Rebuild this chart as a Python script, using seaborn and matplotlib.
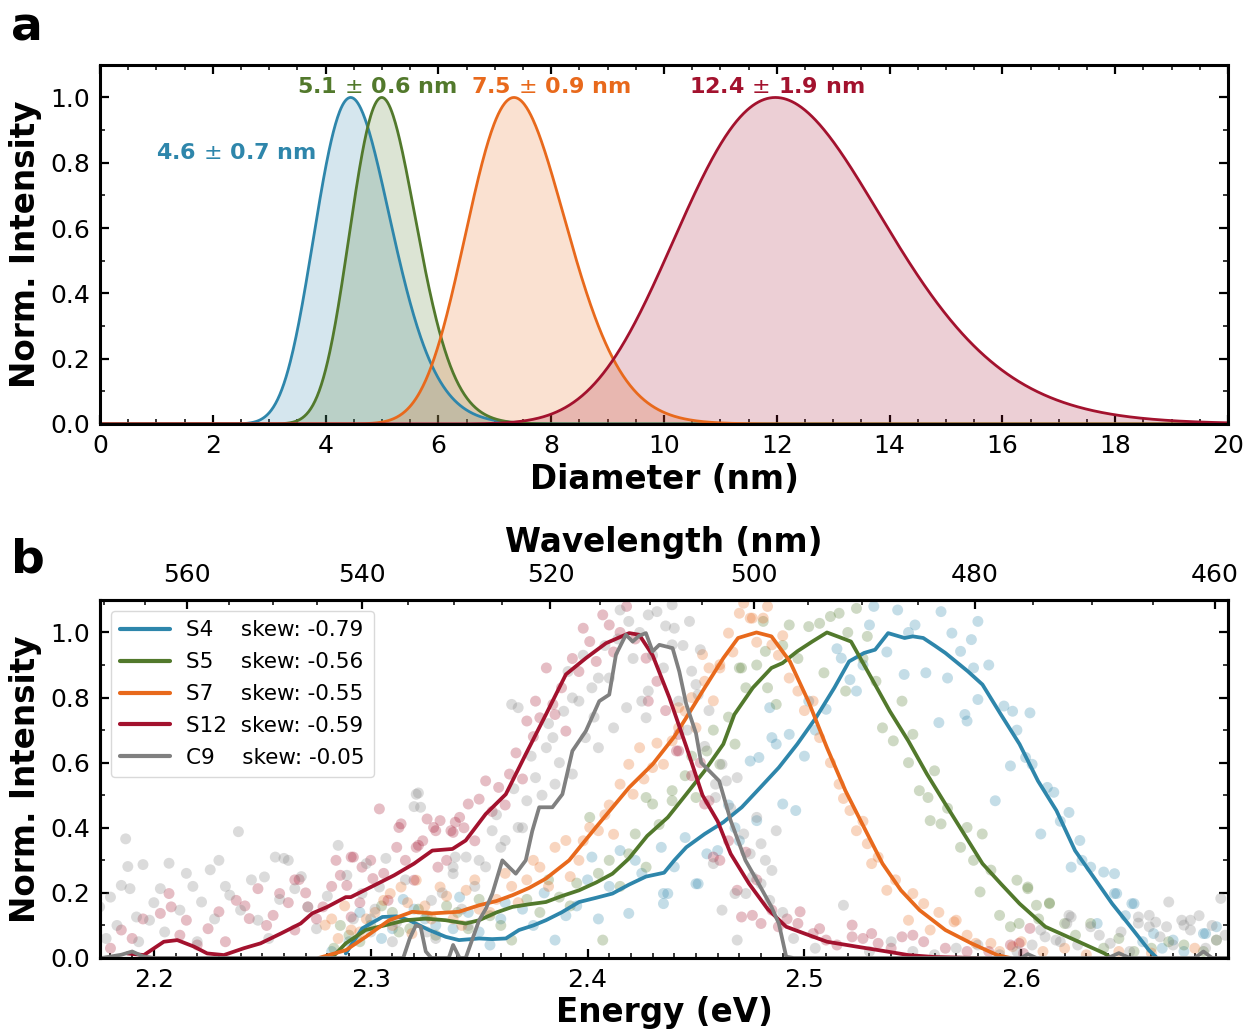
import numpy as np
import pandas as pd
import matplotlib
matplotlib.use("Agg")
import matplotlib.pyplot as plt
import seaborn as sns
from matplotlib.ticker import MultipleLocator

# ---------------- panel a: size distributions ----------------
size_names = ["S4", "S5", "S7", "S12"]
size_mean = [4.6, 5.1, 7.5, 12.4]
size_std = [0.7, 0.6, 0.9, 1.9]

# ---------------- panel b: emission spectra ----------------
samples = ["S4", "S5", "S7", "S12", "C9"]
skews = ["-0.79", "-0.56", "-0.55", "-0.59", "-0.05"]
wl_major = [560, 540, 520, 500, 480, 460]
wl_minor = list(range(460, 575, 5))

# smoothed spectra (energy in eV, normalised intensity)
s4_line_e = [2.2885, 2.2961, 2.3054, 2.3120, 2.3177, 2.3269, 2.3346, 2.3407, 2.3500, 2.3560, 2.3623, 2.3684,
             2.3750, 2.3808, 2.3880, 2.3961, 2.4040, 2.4115, 2.4190, 2.4269, 2.4353, 2.4400, 2.4455, 2.4540,
             2.4626, 2.4711, 2.4797, 2.4882, 2.4967, 2.5053, 2.5138, 2.5206, 2.5275, 2.5326, 2.5386, 2.5462,
             2.5500, 2.5548, 2.5600, 2.5650, 2.5753, 2.5821, 2.5906, 2.5992, 2.6077, 2.6162, 2.6248, 2.6333,
             2.6419, 2.6504, 2.6589, 2.6623]
s4_line_i = [0.014, 0.091, 0.126, 0.128, 0.116, 0.086, 0.065, 0.055, 0.060, 0.058, 0.060, 0.086,
             0.100, 0.116, 0.140, 0.172, 0.185, 0.198, 0.225, 0.250, 0.262, 0.300, 0.340, 0.381,
             0.417, 0.463, 0.524, 0.585, 0.657, 0.738, 0.830, 0.911, 0.937, 0.947, 0.998, 0.983,
             0.988, 0.983, 0.960, 0.937, 0.881, 0.840, 0.748, 0.657, 0.544, 0.453, 0.330, 0.249,
             0.167, 0.096, 0.024, 0.002]

s5_line_e = [2.2820, 2.2885, 2.2977, 2.3069, 2.3161, 2.3254, 2.3346, 2.3438, 2.3500, 2.3580, 2.3654, 2.3730,
             2.3808, 2.3880, 2.3961, 2.4040, 2.4115, 2.4190, 2.4275, 2.4370, 2.4455, 2.4540, 2.4626, 2.4677,
             2.4762, 2.4848, 2.4899, 2.4967, 2.5036, 2.5104, 2.5172, 2.5215, 2.5309, 2.5394, 2.5479, 2.5565,
             2.5650, 2.5736, 2.5821, 2.5906, 2.5992, 2.6111, 2.6248, 2.6384, 2.6410]
s5_line_i = [0.000, 0.045, 0.086, 0.101, 0.116, 0.121, 0.116, 0.106, 0.116, 0.140, 0.157, 0.165,
             0.172, 0.190, 0.208, 0.232, 0.259, 0.305, 0.375, 0.432, 0.503, 0.575, 0.657, 0.748,
             0.830, 0.891, 0.906, 0.942, 0.972, 1.000, 0.983, 0.972, 0.860, 0.758, 0.667, 0.565,
             0.473, 0.381, 0.290, 0.228, 0.167, 0.096, 0.055, 0.014, 0.002]

s7_line_e = [2.2760, 2.2885, 2.2977, 2.3085, 2.3192, 2.3284, 2.3407, 2.3500, 2.3580, 2.3654, 2.3730, 2.3808,
             2.3915, 2.4038, 2.4192, 2.4300, 2.4400, 2.4455, 2.4540, 2.4626, 2.4694, 2.4779, 2.4848, 2.4933,
             2.5018, 2.5104, 2.5189, 2.5275, 2.5360, 2.5445, 2.5531, 2.5650, 2.5770, 2.5889, 2.5950]
s7_line_i = [0.000, 0.024, 0.065, 0.116, 0.142, 0.137, 0.142, 0.162, 0.175, 0.193, 0.215, 0.244,
             0.300, 0.401, 0.524, 0.595, 0.680, 0.738, 0.830, 0.921, 0.983, 1.000, 0.988, 0.911,
             0.789, 0.646, 0.514, 0.401, 0.290, 0.208, 0.147, 0.086, 0.045, 0.009, 0.000]

s12_line_e = [2.1877, 2.1954, 2.2046, 2.2108, 2.2185, 2.2246, 2.2323, 2.2415, 2.2492, 2.2585, 2.2677, 2.2730,
              2.2800, 2.2885, 2.2908, 2.3031, 2.3108, 2.3200, 2.3284, 2.3377, 2.3438, 2.3530, 2.3623, 2.3715,
              2.3808, 2.3900, 2.3992, 2.4085, 2.4192, 2.4238, 2.4300, 2.4377, 2.4455, 2.4530, 2.4600, 2.4660,
              2.4745, 2.4831, 2.4916, 2.5001, 2.5104, 2.5240, 2.5343, 2.5479, 2.5600, 2.5800]
s12_line_i = [0.014, 0.009, 0.050, 0.055, 0.035, 0.014, 0.009, 0.030, 0.045, 0.075, 0.106, 0.137,
              0.157, 0.187, 0.187, 0.228, 0.254, 0.290, 0.330, 0.335, 0.361, 0.442, 0.503, 0.626,
              0.748, 0.871, 0.921, 0.967, 0.998, 0.993, 0.930, 0.800, 0.650, 0.500, 0.420, 0.320,
              0.228, 0.150, 0.096, 0.075, 0.050, 0.035, 0.024, 0.009, 0.003, 0.000]

c9_line_e = [2.1760, 2.1850, 2.1900, 2.1950, 2.2000, 2.2500, 2.3150, 2.3180, 2.3208, 2.3230, 2.3254, 2.3280,
             2.3360, 2.3380, 2.3410, 2.3438, 2.3470, 2.3500, 2.3530, 2.3561, 2.3607, 2.3638, 2.3669, 2.3715,
             2.3745, 2.3777, 2.3838, 2.3884, 2.3930, 2.3992, 2.4054, 2.4100, 2.4131, 2.4177, 2.4208, 2.4238,
             2.4269, 2.4300, 2.4331, 2.4392, 2.4423, 2.4455, 2.4500, 2.4524, 2.4546, 2.4607, 2.4660, 2.4728,
             2.4780, 2.4848, 2.4882, 2.4916, 2.4950, 2.6000, 2.6030, 2.6070, 2.6400, 2.6450, 2.6500, 2.6800,
             2.6840, 2.6880, 2.6950]
c9_line_i = [0.000, 0.010, 0.020, 0.005, 0.000, 0.000, 0.000, 0.060, 0.100, 0.096, 0.020, 0.000,
             0.000, 0.040, 0.000, 0.000, 0.060, 0.116, 0.150, 0.198, 0.300, 0.279, 0.259, 0.300,
             0.390, 0.463, 0.463, 0.503, 0.636, 0.697, 0.789, 0.809, 0.932, 0.993, 0.972, 0.990,
             0.998, 0.942, 0.962, 0.952, 0.880, 0.780, 0.690, 0.600, 0.585, 0.544, 0.422, 0.300,
             0.239, 0.157, 0.106, 0.004, 0.000, 0.000, 0.012, 0.000, 0.000, 0.015, 0.000, 0.000,
             0.020, 0.000, 0.000]

# raw spectral points
s4_pts_e = [2.290, 2.300, 2.310, 2.320, 2.330, 2.341, 2.350, 2.360, 2.370, 2.385, 2.390, 2.402, 2.410, 2.415,
            2.419, 2.425, 2.434, 2.435, 2.435, 2.437, 2.450, 2.451, 2.460, 2.468, 2.475, 2.478, 2.479, 2.484,
            2.485, 2.487, 2.490, 2.493, 2.496, 2.502, 2.510, 2.517, 2.521, 2.524, 2.530, 2.532, 2.543, 2.546,
            2.551, 2.556, 2.562, 2.563, 2.568, 2.572, 2.574, 2.575, 2.577, 2.578, 2.580, 2.580, 2.588, 2.592,
            2.595, 2.596, 2.602, 2.604, 2.605, 2.609, 2.612, 2.615, 2.622, 2.623, 2.627, 2.632, 2.635, 2.638,
            2.643, 2.643, 2.644, 2.651, 2.652, 2.661, 2.670, 2.684, 2.685, 2.690,
            2.282, 2.295, 2.305, 2.315, 2.325, 2.338, 2.345, 2.355, 2.362, 2.375, 2.380, 2.395, 2.400, 2.405,
            2.422, 2.440, 2.445, 2.455, 2.465, 2.470, 2.500, 2.505, 2.515, 2.527, 2.538, 2.548, 2.566, 2.585,
            2.598, 2.618, 2.628, 2.648, 2.656, 2.665, 2.675]
s4_pts_i = [0.050, 0.120, 0.090, 0.150, 0.100, 0.187, 0.080, 0.120, 0.150, 0.055, 0.130, 0.310, 0.220, 0.330,
            0.137, 0.260, 0.340, 0.198, 0.167, 0.198, 0.228, 0.228, 0.330, 0.400, 0.605, 0.422, 0.616, 0.769,
            0.677, 0.657, 0.473, 0.687, 0.453, 0.789, 0.764, 0.921, 0.855, 0.820, 1.023, 1.080, 1.069, 0.871,
            1.023, 0.876, 0.723, 1.064, 0.998, 0.942, 0.748, 0.728, 0.978, 0.891, 0.794, 1.034, 0.483, 0.774,
            0.590, 0.758, 0.616, 0.753, 0.595, 0.381, 0.524, 0.509, 0.447, 0.279, 0.361, 0.279, 0.106, 0.264,
            0.259, 0.198, 0.198, 0.167, 0.167, 0.075, 0.055, 0.075, 0.075, 0.096,
            0.020, 0.140, 0.060, 0.180, 0.120, 0.090, 0.140, 0.040, 0.170, 0.100, 0.200, 0.160, 0.240, 0.120,
            0.300, 0.280, 0.370, 0.320, 0.470, 0.360, 0.620, 0.700, 0.950, 0.900, 0.940, 1.000, 0.860, 0.900,
            0.700, 0.420, 0.300, 0.130, 0.050, 0.030, 0.020]

s5_pts_e = [2.283, 2.290, 2.300, 2.310, 2.318, 2.326, 2.335, 2.345, 2.355, 2.365, 2.372, 2.387, 2.395, 2.401,
            2.407, 2.410, 2.419, 2.422, 2.427, 2.427, 2.430, 2.439, 2.439, 2.445, 2.450, 2.455, 2.461, 2.468,
            2.470, 2.471, 2.473, 2.481, 2.482, 2.483, 2.487, 2.493, 2.502, 2.507, 2.509, 2.512, 2.516, 2.519,
            2.524, 2.529, 2.536, 2.541, 2.545, 2.550, 2.553, 2.557, 2.558, 2.560, 2.563, 2.572, 2.575, 2.581,
            2.582, 2.590, 2.595, 2.598, 2.599, 2.603, 2.603, 2.607, 2.613, 2.613, 2.620, 2.632, 2.645, 2.660,
            2.675, 2.690,
            2.286, 2.295, 2.305, 2.313, 2.322, 2.330, 2.340, 2.350, 2.360, 2.378, 2.382, 2.392, 2.405, 2.415,
            2.433, 2.448, 2.458, 2.465, 2.478, 2.490, 2.497, 2.520, 2.527, 2.533, 2.548, 2.566, 2.578, 2.586,
            2.608, 2.625, 2.638, 2.652, 2.668, 2.684]
s5_pts_i = [0.030, 0.070, 0.100, 0.140, 0.090, 0.130, 0.160, 0.090, 0.130, 0.055, 0.180, 0.187, 0.230, 0.432,
            0.055, 0.300, 0.320, 0.381, 0.493, 0.279, 0.473, 0.514, 0.483, 0.560, 0.493, 0.636, 0.595, 0.657,
            0.891, 0.891, 0.830, 1.034, 0.942, 0.830, 0.779, 1.023, 1.018, 1.028, 0.876, 1.049, 1.059, 0.820,
            1.074, 0.988, 0.707, 0.667, 0.789, 0.687, 0.514, 0.493, 0.422, 0.575, 0.412, 0.340, 0.401, 0.203,
            0.381, 0.131, 0.096, 0.239, 0.106, 0.218, 0.213, 0.162, 0.167, 0.169, 0.106, 0.106, 0.060, 0.030,
            0.040, 0.055,
            0.100, 0.050, 0.160, 0.080, 0.150, 0.070, 0.140, 0.180, 0.100, 0.140, 0.240, 0.160, 0.260, 0.220,
            0.410, 0.620, 0.700, 0.740, 0.900, 0.960, 0.920, 1.000, 0.920, 0.850, 0.600, 0.460, 0.300, 0.270,
            0.120, 0.070, 0.030, 0.020, 0.050, 0.020]

s7_pts_e = [2.279, 2.285, 2.291, 2.298, 2.306, 2.309, 2.314, 2.319, 2.321, 2.325, 2.332, 2.338, 2.344, 2.350,
            2.358, 2.365, 2.372, 2.378, 2.385, 2.390, 2.396, 2.401, 2.405, 2.410, 2.415, 2.419, 2.421, 2.424,
            2.430, 2.435, 2.439, 2.442, 2.442, 2.445, 2.450, 2.453, 2.454, 2.456, 2.461, 2.461, 2.465, 2.470,
            2.472, 2.475, 2.476, 2.481, 2.485, 2.493, 2.497, 2.504, 2.507, 2.516, 2.521, 2.524, 2.529, 2.534,
            2.538, 2.548, 2.550, 2.555, 2.558, 2.569, 2.570, 2.579, 2.586, 2.596, 2.610, 2.630, 2.660, 2.680,
            2.282, 2.288, 2.295, 2.302, 2.310, 2.317, 2.328, 2.335, 2.342, 2.348, 2.355, 2.362, 2.368, 2.375,
            2.382, 2.392, 2.398, 2.408, 2.412, 2.426, 2.432, 2.448, 2.458, 2.467, 2.478, 2.483, 2.488, 2.490,
            2.500, 2.512, 2.518, 2.527, 2.531, 2.542, 2.562, 2.575, 2.590, 2.600, 2.620, 2.645]
s7_pts_i = [0.101, 0.060, 0.086, 0.120, 0.177, 0.198, 0.218, 0.075, 0.239, 0.160, 0.218, 0.120, 0.208, 0.150,
            0.180, 0.220, 0.240, 0.279, 0.340, 0.361, 0.300, 0.401, 0.391, 0.470, 0.534, 0.595, 0.503, 0.646,
            0.585, 0.595, 0.667, 0.707, 0.769, 0.758, 0.707, 0.932, 0.850, 0.891, 0.901, 0.891, 0.998, 1.059,
            1.090, 1.044, 1.044, 1.044, 0.962, 0.860, 0.820, 0.789, 0.677, 0.534, 0.453, 0.391, 0.351, 0.310,
            0.208, 0.116, 0.198, 0.167, 0.086, 0.111, 0.116, 0.045, 0.045, 0.035, 0.020, 0.010, 0.015, 0.030,
            0.120, 0.160, 0.080, 0.140, 0.100, 0.170, 0.120, 0.190, 0.100, 0.240, 0.140, 0.260, 0.170, 0.300,
            0.220, 0.250, 0.360, 0.440, 0.380, 0.550, 0.660, 0.800, 0.790, 0.940, 0.970, 1.080, 0.930, 0.990,
            0.760, 0.600, 0.490, 0.420, 0.290, 0.240, 0.140, 0.070, 0.020, 0.050, 0.030, 0.020]

s12_pts_e = [2.185, 2.203, 2.207, 2.208, 2.215, 2.220, 2.230, 2.238, 2.244, 2.248, 2.255, 2.258, 2.265, 2.265,
             2.267, 2.271, 2.278, 2.284, 2.286, 2.289, 2.291, 2.291, 2.292, 2.296, 2.301, 2.304, 2.308, 2.312,
             2.313, 2.314, 2.320, 2.321, 2.322, 2.326, 2.329, 2.330, 2.331, 2.332, 2.337, 2.338, 2.339, 2.341,
             2.345, 2.350, 2.353, 2.359, 2.364, 2.372, 2.376, 2.378, 2.381, 2.384, 2.385, 2.390, 2.398, 2.401,
             2.404, 2.407, 2.410, 2.418, 2.427, 2.428, 2.441, 2.442, 2.442, 2.454, 2.456, 2.458, 2.461, 2.469,
             2.471, 2.473, 2.476, 2.480, 2.485, 2.488, 2.497, 2.498, 2.504, 2.510, 2.522, 2.522, 2.531, 2.534,
             2.545, 2.555, 2.565, 2.575, 2.595, 2.599, 2.601, 2.604,
             2.180, 2.190, 2.195, 2.212, 2.225, 2.233, 2.242, 2.252, 2.262, 2.270, 2.275, 2.282, 2.295, 2.300,
             2.306, 2.316, 2.324, 2.335, 2.343, 2.348, 2.356, 2.362, 2.367, 2.370, 2.375, 2.388, 2.393, 2.396,
             2.412, 2.415, 2.422, 2.432, 2.436, 2.448, 2.452, 2.465, 2.478, 2.492, 2.507, 2.515, 2.527, 2.540,
             2.550, 2.585]
s12_pts_i = [0.086, 0.137, 0.198, 0.157, 0.116, 0.040, 0.142, 0.177, 0.121, 0.213, 0.131, 0.198, 0.240, 0.086,
             0.241, 0.157, 0.157, 0.300, 0.254, 0.223, 0.126, 0.310, 0.310, 0.279, 0.244, 0.458, 0.177, 0.340,
             0.401, 0.412, 0.239, 0.340, 0.346, 0.427, 0.401, 0.391, 0.279, 0.422, 0.391, 0.386, 0.417, 0.432,
             0.473, 0.488, 0.544, 0.524, 0.565, 0.728, 0.789, 0.738, 0.891, 0.779, 0.748, 0.697, 1.013, 0.972,
             0.911, 1.054, 1.023, 1.080, 0.921, 0.789, 0.636, 0.687, 0.636, 0.473, 0.483, 0.310, 0.300, 0.208,
             0.126, 0.325, 0.131, 0.106, 0.147, 0.096, 0.106, 0.142, 0.075, 0.055, 0.101, 0.065, 0.075, 0.045,
             0.065, 0.050, 0.030, 0.020, 0.040, 0.045, 0.014, 0.091,
             0.030, 0.060, 0.120, 0.070, 0.090, 0.050, 0.160, 0.100, 0.170, 0.200, 0.120, 0.220, 0.170, 0.300,
             0.260, 0.300, 0.360, 0.300, 0.400, 0.360, 0.450, 0.470, 0.630, 0.550, 0.680, 0.830, 0.920, 0.880,
             0.940, 1.000, 0.980, 0.850, 0.760, 0.560, 0.600, 0.360, 0.240, 0.120, 0.090, 0.040, 0.060, 0.030,
             0.070, 0.020]

c9_pts_e = [2.175, 2.180, 2.185, 2.187, 2.188, 2.189, 2.192, 2.195, 2.198, 2.203, 2.207, 2.212, 2.218, 2.222,
            2.226, 2.230, 2.235, 2.239, 2.240, 2.248, 2.251, 2.256, 2.260, 2.262, 2.265, 2.271, 2.285, 2.289,
            2.296, 2.300, 2.304, 2.307, 2.310, 2.320, 2.321, 2.322, 2.323, 2.328, 2.330, 2.338, 2.338, 2.339,
            2.344, 2.345, 2.350, 2.356, 2.362, 2.365, 2.368, 2.368, 2.372, 2.376, 2.381, 2.384, 2.385, 2.389,
            2.393, 2.393, 2.396, 2.399, 2.402, 2.405, 2.405, 2.412, 2.415, 2.418, 2.419, 2.425, 2.427, 2.428,
            2.428, 2.432, 2.435, 2.439, 2.439, 2.440, 2.442, 2.447, 2.448, 2.450, 2.451, 2.452, 2.458, 2.459,
            2.459, 2.462, 2.462, 2.464, 2.468, 2.469, 2.469, 2.472, 2.473, 2.476, 2.478, 2.480, 2.480, 2.484,
            2.485, 2.487, 2.518, 2.550, 2.570, 2.590, 2.605, 2.609, 2.611, 2.616, 2.618, 2.621, 2.622, 2.623,
            2.632, 2.641, 2.654, 2.654, 2.659, 2.659, 2.664, 2.667, 2.668, 2.674, 2.675, 2.678, 2.678, 2.685,
            2.690, 2.692, 2.694,
            2.178, 2.183, 2.193, 2.200, 2.205, 2.215, 2.220, 2.228, 2.233, 2.245, 2.253, 2.258, 2.268, 2.275,
            2.280, 2.292, 2.298, 2.302, 2.312, 2.316, 2.326, 2.333, 2.342, 2.348, 2.353, 2.358, 2.360, 2.366,
            2.370, 2.374, 2.379, 2.382, 2.387, 2.391, 2.398, 2.403, 2.408, 2.410, 2.414, 2.421, 2.424, 2.430,
            2.436, 2.444, 2.446, 2.454, 2.456, 2.466, 2.475, 2.482, 2.490, 2.495, 2.505, 2.530, 2.540, 2.560,
            2.580, 2.598, 2.626, 2.636, 2.646, 2.650, 2.662, 2.670, 2.682, 2.688]
c9_pts_i = [0.157, 0.187, 0.223, 0.366, 0.281, 0.213, 0.126, 0.287, 0.116, 0.213, 0.291, 0.147, 0.220, 0.172,
            0.271, 0.300, 0.193, 0.388, 0.147, 0.116, 0.249, 0.310, 0.306, 0.300, 0.213, 0.157, 0.346, 0.254,
            0.198, 0.080, 0.218, 0.306, 0.050, 0.465, 0.503, 0.507, 0.463, 0.177, 0.060, 0.259, 0.279, 0.310,
            0.310, 0.100, 0.300, 0.391, 0.361, 0.779, 0.769, 0.401, 0.483, 0.554, 0.646, 0.677, 0.534, 0.758,
            0.799, 0.565, 0.789, 0.677, 0.830, 0.860, 0.646, 0.707, 1.069, 0.769, 1.034, 0.789, 0.738, 1.054,
            0.820, 1.064, 0.891, 0.962, 1.085, 1.013, 0.789, 1.034, 0.881, 0.840, 0.809, 0.947, 0.290, 0.493,
            0.534, 0.595, 0.147, 0.544, 0.198, 0.554, 0.055, 0.381, 0.198, 0.249, 0.432, 0.351, 0.228, 0.177,
            0.269, 0.391, 0.162, 0.020, 0.030, 0.010, 0.040, 0.086, 0.065, 0.055, 0.050, 0.106, 0.131, 0.126,
            0.096, 0.045, 0.126, 0.107, 0.131, 0.096, 0.065, 0.096, 0.172, 0.116, 0.101, 0.086, 0.116, 0.030,
            0.055, 0.183, 0.070,
            0.060, 0.100, 0.050, 0.170, 0.080, 0.260, 0.050, 0.120, 0.220, 0.240, 0.060, 0.180, 0.250, 0.090,
            0.190, 0.120, 0.290, 0.150, 0.110, 0.240, 0.080, 0.200, 0.150, 0.220, 0.280, 0.440, 0.340, 0.520,
            0.400, 0.620, 0.500, 0.720, 0.600, 0.880, 0.930, 0.740, 0.960, 0.860, 0.980, 0.920, 1.000, 0.930,
            1.020, 0.960, 0.700, 0.650, 0.760, 0.460, 0.320, 0.300, 0.140, 0.060, 0.030, 0.020, 0.050, 0.010,
            0.040, 0.020, 0.040, 0.070, 0.080, 0.020, 0.110, 0.040, 0.130, 0.100]

colors = {"S4": "#2E86AB", "S5": "#52792C", "S7": "#E8691C", "S12": "#A3122E", "C9": "#808080"}

HC = 1239.84  # eV*nm


def lognormal_profile(d, mean, std):
    """Log-normal size distribution with the given arithmetic mean/std, peak-normalised."""
    s2 = np.log(1.0 + (std / mean) ** 2)
    mu = np.log(mean) - s2 / 2.0
    out = np.zeros_like(d)
    pos = d > 0
    out[pos] = np.exp(-(np.log(d[pos]) - mu) ** 2 / (2 * s2)) / d[pos]
    return out / out.max()


sns.set_theme(style="ticks")
plt.rcParams["font.family"] = ["DejaVu Sans"]
plt.rcParams["mathtext.fontset"] = "dejavusans"
for key in ("text.color", "axes.labelcolor", "xtick.color", "ytick.color", "axes.edgecolor"):
    plt.rcParams[key] = "black"

fig = plt.figure(figsize=(12.45, 10.29), dpi=100)
ax_a = fig.add_axes([0.0803, 0.588, 0.906, 0.349])
ax_b = fig.add_axes([0.0803, 0.069, 0.906, 0.348])

# ---------- panel a ----------
diam = np.linspace(0.0, 20.0, 1601)
frames = []
for name, m, s in zip(size_names, size_mean, size_std):
    frames.append(pd.DataFrame({"d": diam, "I": lognormal_profile(diam, m, s), "sample": name}))
dist_df = pd.concat(frames, ignore_index=True)

sns.lineplot(data=dist_df, x="d", y="I", hue="sample", hue_order=size_names,
             palette=colors, lw=2.0, legend=False, ax=ax_a, zorder=2.2)
for name in size_names:
    sub = dist_df[dist_df["sample"] == name]
    ax_a.fill_between(sub["d"], 0, sub["I"], color=colors[name], alpha=0.2, lw=0, zorder=2)

label_pos = {"S4": (2.41, 0.812), "S5": (4.91, 1.013), "S7": (8.0, 1.013), "S12": (12.0, 1.013)}
for name, m, s in zip(size_names, size_mean, size_std):
    x, y = label_pos[name]
    ax_a.text(x, y, f"{m} $\\pm$ {s} nm", color=colors[name], fontsize=16,
              fontweight="bold", ha="center", va="baseline")

ax_a.set_xlim(0, 20)
ax_a.set_ylim(0, 1.1)
ax_a.xaxis.set_major_locator(MultipleLocator(2))
ax_a.xaxis.set_minor_locator(MultipleLocator(0.5))
ax_a.yaxis.set_major_locator(MultipleLocator(0.2))
ax_a.yaxis.set_minor_locator(MultipleLocator(0.1))
ax_a.set_xlabel("Diameter (nm)", fontsize=23.5, fontweight="bold", labelpad=4)
ax_a.set_ylabel("Norm. Intensity", fontsize=23.5, fontweight="bold", labelpad=6)
ax_a.tick_params(which="both", top=True, right=True)

# ---------- panel b ----------
line_e = [s4_line_e, s5_line_e, s7_line_e, s12_line_e, c9_line_e]
line_i = [s4_line_i, s5_line_i, s7_line_i, s12_line_i, c9_line_i]
pts_e = [s4_pts_e, s5_pts_e, s7_pts_e, s12_pts_e, c9_pts_e]
pts_i = [s4_pts_i, s5_pts_i, s7_pts_i, s12_pts_i, c9_pts_i]

legend_text = {}
for name, sk in zip(samples, skews):
    pad = "  " if len(name) == 3 else "    "
    legend_text[name] = f"{name}{pad}skew: {sk}"

pts_df = pd.concat([pd.DataFrame({"E": e, "I": i, "sample": n})
                    for n, e, i in zip(samples, pts_e, pts_i)], ignore_index=True)
line_df = pd.concat([pd.DataFrame({"E": e, "I": i, "label": legend_text[n]})
                     for n, e, i in zip(samples, line_e, line_i)], ignore_index=True)

sns.scatterplot(data=pts_df, x="E", y="I", hue="sample", hue_order=samples, palette=colors,
                s=62, alpha=0.28, linewidth=0, legend=False, ax=ax_b, zorder=1.5)
sns.lineplot(data=line_df, x="E", y="I", hue="label",
             hue_order=[legend_text[n] for n in samples],
             palette={legend_text[n]: colors[n] for n in samples},
             sort=False, estimator=None, lw=2.7, ax=ax_b, zorder=2.3)

ax_b.set_xlim(HC / 570.0, HC / 460.0)
ax_b.set_ylim(0, 1.1)
ax_b.xaxis.set_major_locator(MultipleLocator(0.1))
ax_b.xaxis.set_minor_locator(MultipleLocator(0.01))
ax_b.yaxis.set_major_locator(MultipleLocator(0.2))
ax_b.yaxis.set_minor_locator(MultipleLocator(0.1))
ax_b.set_xlabel("Energy (eV)", fontsize=23.5, fontweight="bold", labelpad=3)
ax_b.set_ylabel("Norm. Intensity", fontsize=23.5, fontweight="bold", labelpad=6)
ax_b.tick_params(which="both", top=False, right=True)

leg = ax_b.legend(loc="upper left", fontsize=15.5, handlelength=2.3, handletextpad=0.75,
                  labelspacing=0.55, borderpad=0.45, frameon=True, fancybox=True)
leg.get_frame().set_edgecolor("#d0d0d0")
leg.get_frame().set_linewidth(1.0)
for h in leg.get_lines():
    h.set_linewidth(3.0)

# wavelength scale on a twin axis: ticks placed at E = hc / lambda
ax_top = ax_b.twiny()
ax_top.set_xlim(2.1734, 2.7015)
ax_top.set_xticks([HC / w for w in wl_major])
ax_top.set_xticklabels([str(w) for w in wl_major])
ax_top.set_xticks([HC / w for w in wl_minor if w not in wl_major], minor=True)
ax_top.set_xlabel("Wavelength (nm)", fontsize=23.5, fontweight="bold", labelpad=8)
ax_top.tick_params(which="both", top=True, bottom=False, labeltop=True, labelbottom=False)

# ---------- shared styling ----------
for ax in (ax_a, ax_b, ax_top):
    ax.tick_params(which="both", direction="in", labelsize=18, pad=7)
    ax.tick_params(which="major", length=6.5, width=1.6)
    ax.tick_params(which="minor", length=3.5, width=1.1)
    for sp in ax.spines.values():
        sp.set_linewidth(2.2)
        sp.set_color("black")
ax_top.tick_params(which="both", pad=9)

fig.text(0.009, 0.961, "a", fontsize=34, fontweight="bold", va="baseline", ha="left")
fig.text(0.009, 0.444, "b", fontsize=34, fontweight="bold", va="baseline", ha="left")

fig.savefig("out.png", dpi=100)
